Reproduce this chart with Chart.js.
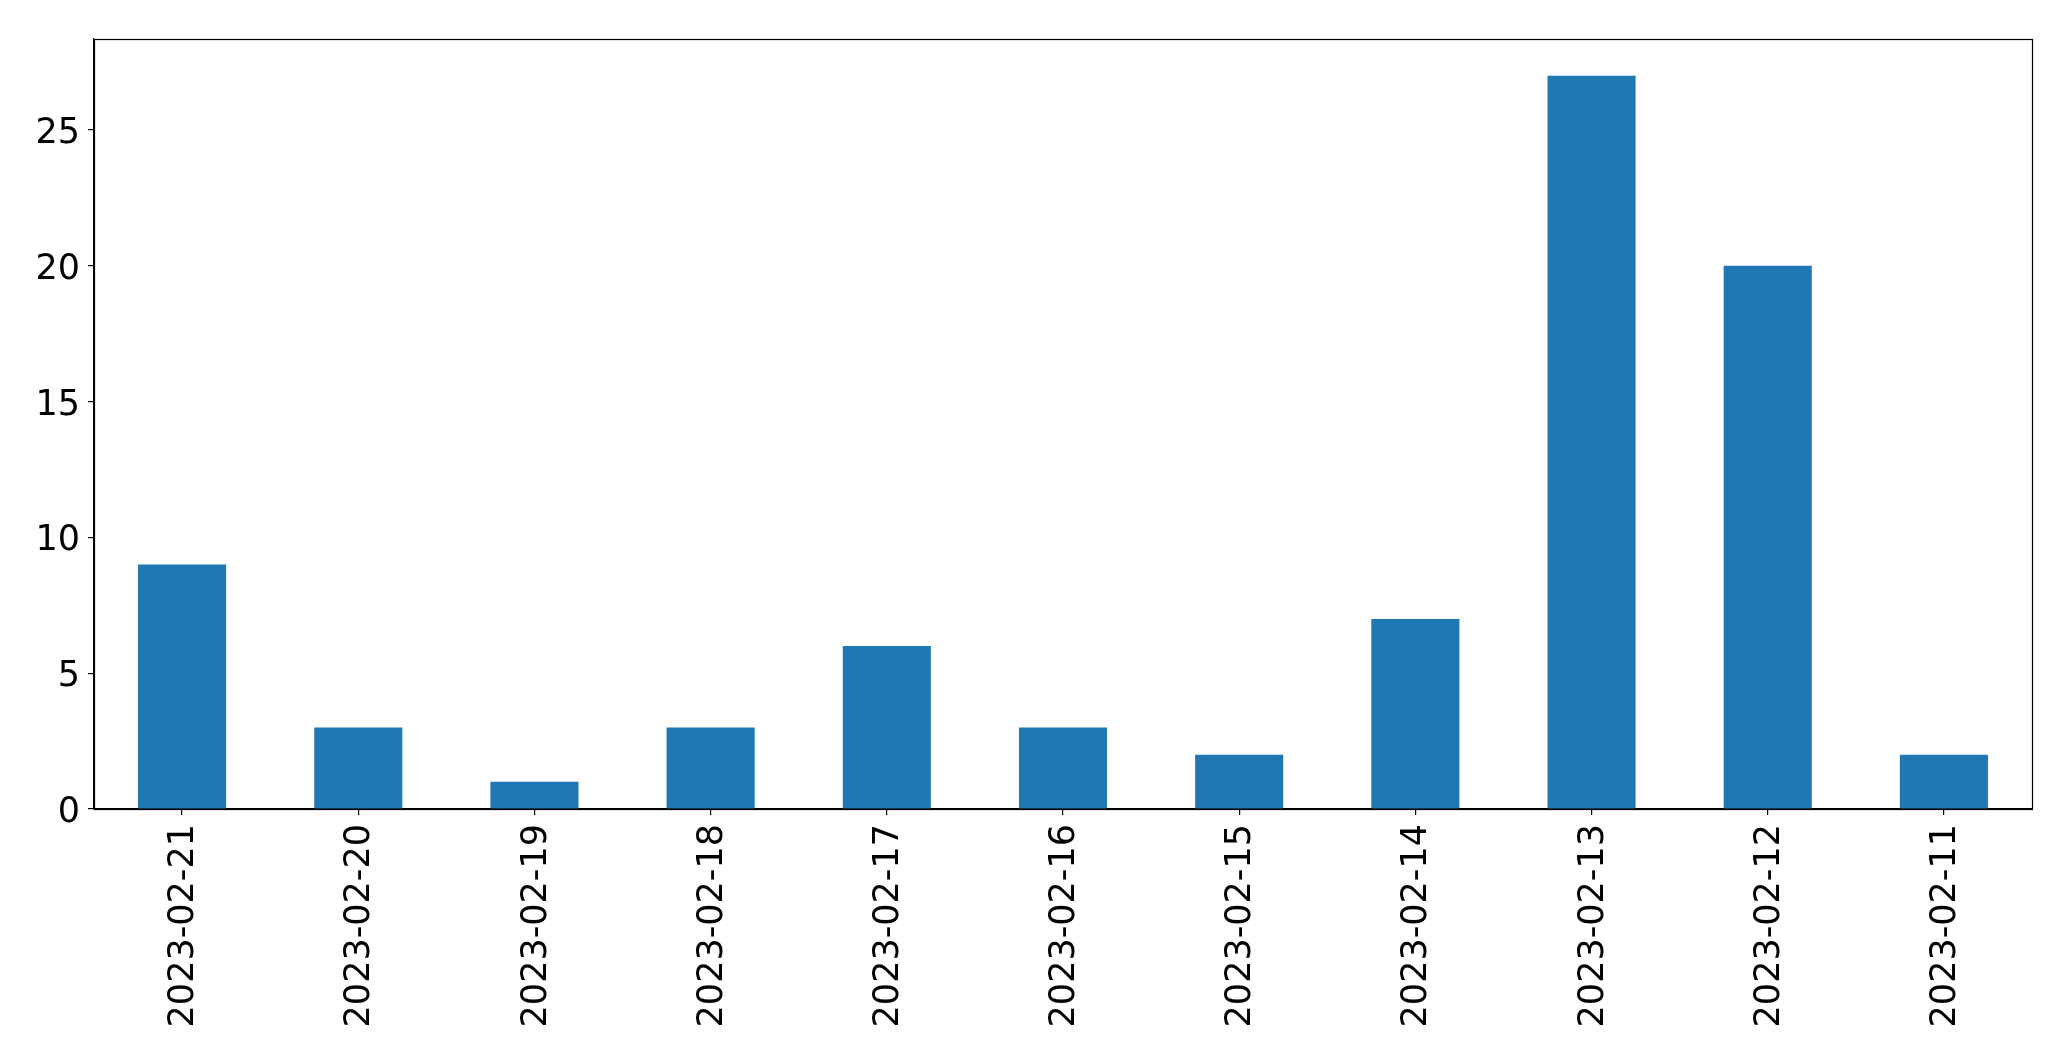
<!DOCTYPE html>
<html>
<head>
<meta charset="utf-8">
<script src="https://cdn.jsdelivr.net/npm/chart.js@4/dist/chart.umd.min.js"></script>
<style>
html,body{margin:0;padding:0;background:#fff;}
canvas{display:block;}
</style>
</head>
<body>
<canvas id="c" width="2071" height="1061"></canvas>
<script>
const categories = ["2023-02-21","2023-02-20","2023-02-19","2023-02-18","2023-02-17","2023-02-16","2023-02-15","2023-02-14","2023-02-13","2023-02-12","2023-02-11"];
const counts = [9,3,1,3,6,3,2,7,27,20,2];
const yTicks = [0,5,10,15,20,25];

const yMax = Math.max(...counts) * 1.05;

const frame = {
  id: 'frame',
  afterDraw(chart) {
    const a = chart.chartArea, ctx = chart.ctx;
    ctx.save();
    ctx.strokeStyle = '#000';
    ctx.lineWidth = 1.2;
    ctx.strokeRect(Math.round(a.left)+0.5, Math.round(a.top)+0.5, Math.round(a.right-a.left), Math.round(a.bottom-a.top));
    ctx.restore();
  }
};

new Chart(document.getElementById('c'), {
  type: 'bar',
  data: {
    labels: categories,
    datasets: [{
      data: counts,
      backgroundColor: '#1f77b4',
      borderWidth: 0,
      barPercentage: 0.5,
      categoryPercentage: 1.0
    }]
  },
  plugins: [frame],
  options: {
    responsive: false,
    devicePixelRatio: 1,
    animation: false,
    layout: { padding: { left: 0, top: 39, right: 39, bottom: 0 } },
    plugins: { legend: { display: false }, tooltip: { enabled: false } },
    scales: {
      x: {
        offset: true,
        grid: { display: true, drawOnChartArea: false, drawTicks: true, tickLength: 6, color: '#000', offset: false, lineWidth: 1.2 },
        border: { display: true, color: '#000', width: 1.2 },
        ticks: {
          autoSkip: false,
          maxRotation: 90, minRotation: 90,
          padding: 9,
          labelOffset: 2,
          color: '#000',
          font: { family: 'DejaVu Sans', size: 35 }
        },
        afterFit(scale) { scale.height = 252; }
      },
      y: {
        min: 0,
        max: yMax,
        grid: { display: true, drawOnChartArea: false, drawTicks: true, tickLength: 6, color: '#000', lineWidth: 1.2 },
        border: { display: true, color: '#000', width: 1.2 },
        afterBuildTicks(scale) { scale.ticks = yTicks.map(v => ({ value: v })); },
        ticks: {
          padding: 8,
          labelOffset: 4,
          color: '#000',
          font: { family: 'DejaVu Sans', size: 35 }
        },
        afterFit(scale) { scale.width = 94; }
      }
    }
  }
});
</script>
</body>
</html>
